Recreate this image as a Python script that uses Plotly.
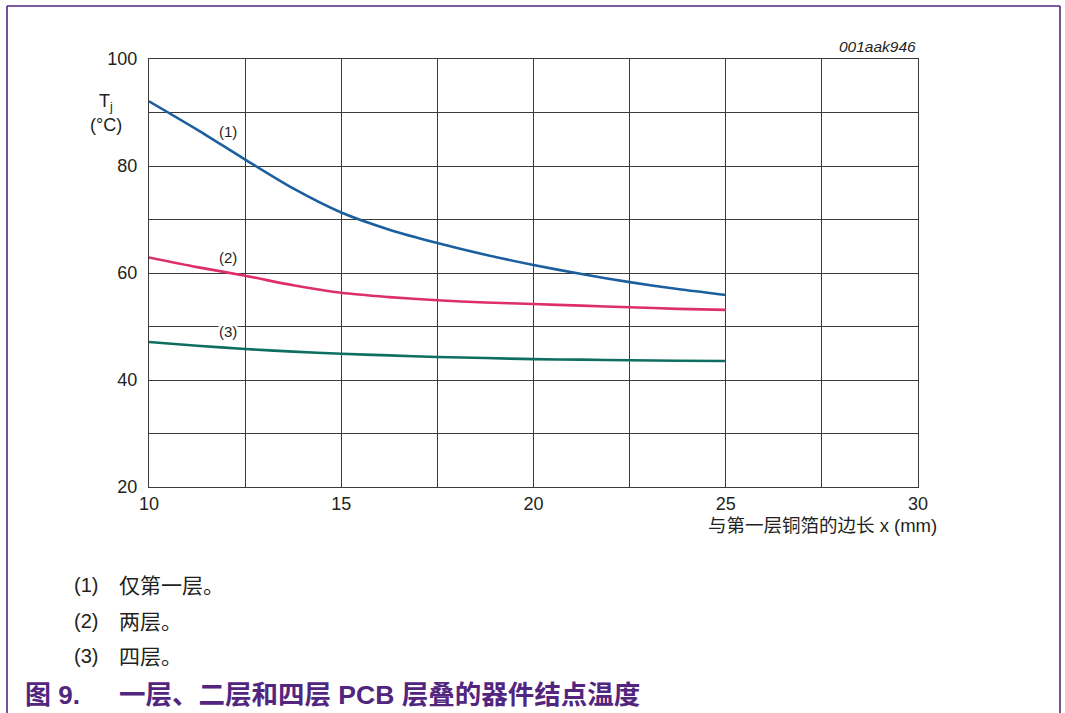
import plotly.graph_objects as go

# Edge length of first copper layer (mm)
x_mm = [10, 11.25, 12.5, 13.75, 15, 16.25, 17.5, 18.75, 20, 21.25, 22.5, 23.75, 25]

# Junction temperature Tj (°C) for each PCB stack
tj_one_layer = [92.1, 86.8, 81.2, 75.8, 71.3, 68.1, 65.6, 63.4, 61.5, 59.8, 58.3, 57.0, 55.9]
tj_two_layer = [62.9, 61.1, 59.5, 57.7, 56.3, 55.5, 54.9, 54.5, 54.2, 53.9, 53.6, 53.3, 53.1]
tj_four_layer = [47.1, 46.4, 45.8, 45.3, 44.9, 44.6, 44.3, 44.1, 43.9, 43.8, 43.7, 43.6, 43.55]

series_names = ["(1)", "(2)", "(3)"]
series_colors = ["#1b5f9e", "#dc2f6b", "#0e6f60"]
note_texts = ["仅第一层。", "两层。", "四层。"]

x_ticks = [10, 15, 20, 25, 30]
x_minor = [12.5, 17.5, 22.5, 27.5]
y_ticks = [20, 40, 60, 80, 100]
y_minor = [30, 50, 70, 90]

FONT = "Liberation Sans, Arial, Helvetica, Noto Sans CJK SC, sans-serif"
PURPLE = "#52267f"
TEXT = "#231f20"

fig = go.Figure()
for ys, name, col in zip([tj_one_layer, tj_two_layer, tj_four_layer], series_names, series_colors):
    fig.add_trace(go.Scatter(x=x_mm, y=ys, mode="lines", name=name,
                             line=dict(color=col, width=2.6, shape="spline", smoothing=0.8),
                             showlegend=False, hoverinfo="skip"))

# Curve labels
label_pos = [(12.05, 86.5), (12.05, 62.9), (12.05, 49.0)]
for (lx, ly), name in zip(label_pos, series_names):
    fig.add_annotation(x=lx, y=ly, text=name, showarrow=False,
                       font=dict(family=FONT, size=15, color=TEXT),
                       bgcolor="white" if name == "(3)" else "rgba(0,0,0,0)", borderpad=0)

grid_col = "#3a3a3a"
fig.update_xaxes(range=[10, 30], tickvals=x_ticks,
                 minor=dict(tickvals=x_minor, showgrid=True, gridcolor=grid_col, gridwidth=1, ticks=""),
                 showgrid=True, gridcolor=grid_col, gridwidth=1,
                 showline=True, linecolor=grid_col, linewidth=1, mirror=True,
                 zeroline=False, ticks="", tickfont=dict(family=FONT, size=18, color=TEXT))
fig.update_yaxes(range=[20, 100], tickvals=y_ticks,
                 minor=dict(tickvals=y_minor, showgrid=True, gridcolor=grid_col, gridwidth=1, ticks=""),
                 showgrid=True, gridcolor=grid_col, gridwidth=1,
                 showline=True, linecolor=grid_col, linewidth=1, mirror=True,
                 zeroline=False, ticks="", ticklabelstandoff=7,
                 tickfont=dict(family=FONT, size=18, color=TEXT))

# Axis titles and figure id
fig.add_annotation(xref="paper", yref="paper", x=(106 - 149) / 769, y=(487 - 102) / 428,
                   xanchor="center", yanchor="middle", text="T<sub>j</sub>",
                   showarrow=False, font=dict(family=FONT, size=18, color=TEXT))
fig.add_annotation(xref="paper", yref="paper", x=(106 - 149) / 769, y=(487 - 125) / 428,
                   xanchor="center", yanchor="middle", text="(°C)",
                   showarrow=False, font=dict(family=FONT, size=18, color=TEXT))
fig.add_annotation(xref="paper", yref="paper", x=1.0, y=1.005, xanchor="right", yanchor="bottom",
                   text="<i>001aak946</i>", showarrow=False,
                   font=dict(family=FONT, size=15.5, color=TEXT))
fig.add_annotation(xref="paper", yref="paper", x=(939 - 149) / 769, y=(487 - 525) / 428,
                   xanchor="right", yanchor="middle", text="与第一层铜箔的边长 x (mm)",
                   showarrow=False, font=dict(family=FONT, size=18.5, color=TEXT))

# Notes under the chart
note_y = [585, 621, 656]
for py, name, txt in zip(note_y, series_names, note_texts):
    yp = (487 - py) / 428
    fig.add_annotation(xref="paper", yref="paper", x=(72 - 149) / 769, y=yp, xanchor="left",
                       yanchor="middle", text=name, showarrow=False,
                       font=dict(family=FONT, size=20, color=TEXT))
    fig.add_annotation(xref="paper", yref="paper", x=(117 - 149) / 769, y=yp, xanchor="left",
                       yanchor="middle", text=txt, showarrow=False,
                       font=dict(family=FONT, size=21, color=TEXT))

# Figure caption
cap_y = (487 - 695) / 428
fig.add_annotation(xref="paper", yref="paper", x=(23 - 149) / 769, y=cap_y, xanchor="left",
                   yanchor="middle", text="<b>图 9.</b>", showarrow=False,
                   font=dict(family=FONT, size=26, color=PURPLE))
fig.add_annotation(xref="paper", yref="paper", x=(117 - 149) / 769, y=cap_y, xanchor="left",
                   yanchor="middle", text="<b>一层、二层和四层 PCB 层叠的器件结点温度</b>",
                   showarrow=False, font=dict(family=FONT, size=26.5, color=PURPLE))

# Page frame
fx0, fx1 = (7 - 149) / 769, (1060 - 149) / 769
fy_top, fy_bot = (487 - 6) / 428, (487 - 760) / 428
for x0, y0, x1, y1 in [(fx0, fy_bot, fx0, fy_top), (fx0, fy_top, fx1, fy_top), (fx1, fy_top, fx1, fy_bot)]:
    fig.add_shape(type="line", xref="paper", yref="paper", x0=x0, y0=y0, x1=x1, y1=y1,
                  line=dict(color=PURPLE, width=1.6))

fig.update_layout(width=1065, height=713, margin=dict(l=149, r=147, t=59, b=226),
                  paper_bgcolor="white", plot_bgcolor="white",
                  font=dict(family=FONT, color=TEXT))

fig.write_html("out.html")
